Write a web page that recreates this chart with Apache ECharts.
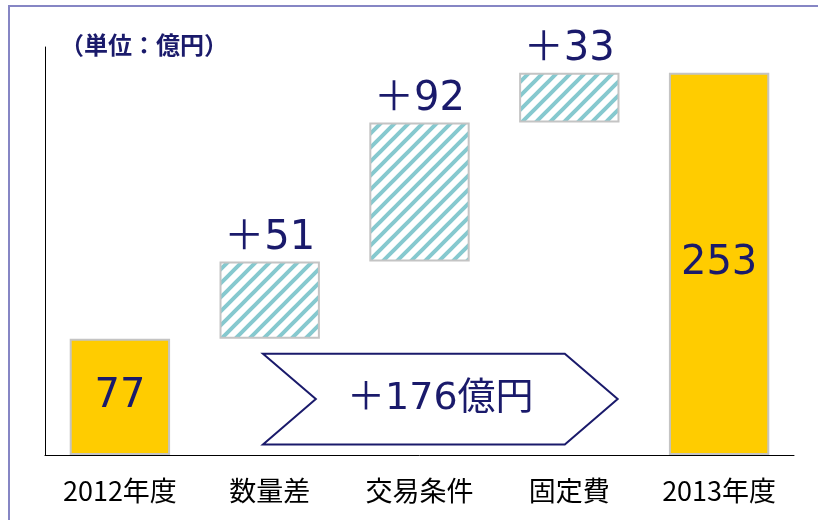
<!DOCTYPE html>
<html>
<head>
<meta charset="utf-8">
<script src="https://cdn.jsdelivr.net/npm/echarts@6/dist/echarts.min.js"></script>
<style>
  html, body { margin: 0; padding: 0; background: #fff; }
  #chart { width: 818px; height: 520px; }
</style>
</head>
<body>
<div id="chart"></div>
<script>
// 数据
const categories = ['2012年度', '数量差', '交易条件', '固定費', '2013年度']
const totals = [77, '-', '-', '-', 253]
const deltas = ['-', 51, 92, 33, '-']
const bases = [0, 77, 128, 220, 0]
const arrowText = '＋176億円'
// 箭头: 起始类目, 结束类目, 上沿值, 下沿值
const arrowSpan = [1, 3, 67, 7]

const navy = '#1a1a6b'
const numFont = 'DejaVu Sans, Noto Sans CJK JP, sans-serif'
const cjkFont = 'Noto Sans CJK JP, sans-serif'

// 斜线填充
function makeHatch() {
  const s = 14
  const c = document.createElement('canvas')
  c.width = s
  c.height = s
  const ctx = c.getContext('2d')
  ctx.fillStyle = '#ffffff'
  ctx.fillRect(0, 0, s, s)
  ctx.strokeStyle = '#86c9cf'
  ctx.lineWidth = 4
  ctx.beginPath()
  ctx.moveTo(-s, 2 * s); ctx.lineTo(2 * s, -s)
  ctx.moveTo(-s, s); ctx.lineTo(s, -s)
  ctx.moveTo(0, 2 * s); ctx.lineTo(2 * s, 0)
  ctx.stroke()
  return c
}

const chart = echarts.init(document.getElementById('chart'))

const option = {
  animation: false,
  backgroundColor: '#fff',
  graphic: [
    {
      type: 'rect',
      shape: { x: 9, y: 6, width: 840, height: 540 },
      style: { fill: 'none', stroke: '#8686c4', lineWidth: 2 },
      silent: true
    },
    {
      type: 'text',
      left: 60,
      top: 33,
      style: {
        text: '（単位：億円）',
        fill: navy,
        font: 'bold 24px ' + cjkFont
      }
    }
  ],
  grid: {
    left: 45,
    right: 24,
    top: 47,
    bottom: 65
  },
  xAxis: {
    type: 'category',
    data: categories,
    axisLine: { lineStyle: { color: '#000', width: 1 } },
    axisTick: { show: false },
    axisLabel: {
      color: '#000',
      fontSize: 27,
      fontFamily: cjkFont,
      margin: 22,
      interval: 0
    }
  },
  yAxis: {
    type: 'value',
    min: 0,
    max: 270,
    axisLine: { show: true, lineStyle: { color: '#000', width: 1 } },
    axisTick: { show: false },
    axisLabel: { show: false },
    splitLine: { show: false }
  },
  series: [
    {
      name: 'base',
      type: 'bar',
      stack: 'wf',
      data: bases,
      barWidth: '67%',
      itemStyle: { color: 'transparent' },
      silent: true
    },
    {
      name: 'total',
      type: 'bar',
      stack: 'wf',
      data: totals,
      itemStyle: {
        color: '#ffcc00',
        borderColor: '#c4c4c4',
        borderWidth: 2
      },
      label: {
        show: true,
        position: 'inside',
        color: navy,
        fontSize: 40,
        fontFamily: numFont
      }
    },
    {
      name: 'delta',
      type: 'bar',
      stack: 'wf',
      data: deltas,
      itemStyle: {
        color: { image: makeHatch(), repeat: 'repeat' },
        borderColor: '#c4c4c4',
        borderWidth: 2
      },
      label: {
        show: true,
        position: 'top',
        distance: 3,
        color: navy,
        fontSize: 40,
        fontFamily: numFont,
        formatter: p => '＋' + p.value
      }
    },
    {
      name: 'arrow',
      type: 'custom',
      data: [arrowSpan],
      z: 5,
      renderItem: function (params, api) {
        const band = api.size([1, 0])[0]
        const x0 = api.coord([api.value(0), 0])[0] - band * 0.045
        const shoulder = api.coord([api.value(1), 0])[0] - band * 0.03
        const tip = shoulder + band * 0.353
        const yTop = api.coord([0, api.value(2)])[1]
        const yBot = api.coord([0, api.value(3)])[1]
        const yMid = (yTop + yBot) / 2
        const notch = x0 + band * 0.353
        return {
          type: 'group',
          children: [
            {
              type: 'polygon',
              shape: {
                points: [
                  [x0, yTop], [shoulder, yTop], [tip, yMid],
                  [shoulder, yBot], [x0, yBot], [notch, yMid]
                ]
              },
              style: { fill: '#fff', stroke: navy, lineWidth: 2 }
            },
            {
              type: 'text',
              x: (x0 + tip) / 2,
              y: yMid,
              style: {
                text: arrowText,
                fill: navy,
                font: '38px ' + numFont,
                align: 'center',
                verticalAlign: 'middle'
              }
            }
          ]
        }
      }
    }
  ]
}

chart.setOption(option)

window.addEventListener('resize', () => {
  chart.resize()
})
</script>
</body>
</html>
